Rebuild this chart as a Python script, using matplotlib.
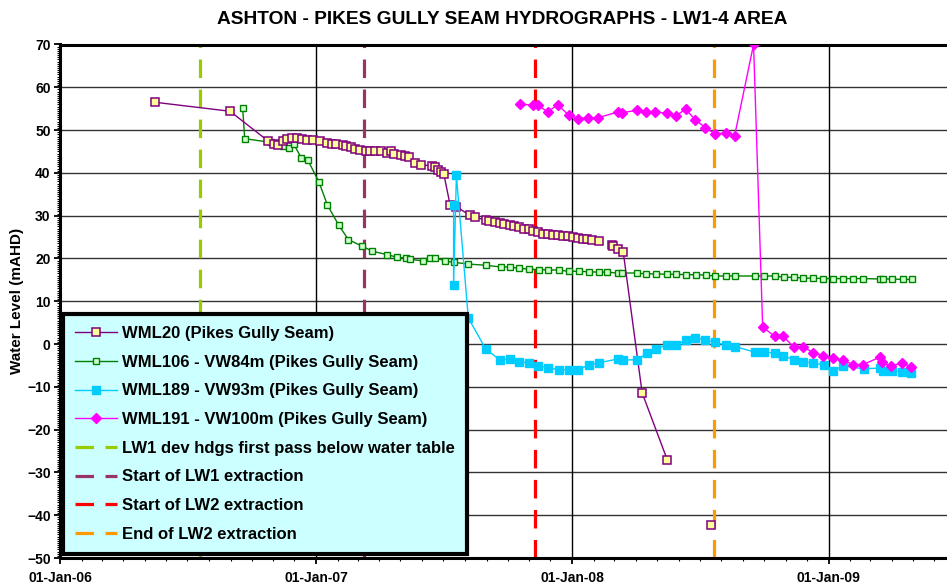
#!/usr/bin/env python3

import matplotlib
matplotlib.use('Agg')
import matplotlib.pyplot as plt
import matplotlib.dates as mdates
from matplotlib.ticker import MultipleLocator
import numpy as np
import pandas as pd

nan = np.nan
START = pd.Timestamp('2006-01-01')

# days since 01-Jan-06 and water levels (mAHD)
wml20_days = [135, 242, 296, 305, 311, 317, 324, 331, 338, 345,
              352, 361, 370, 380, 387, 393, 403, 408, 414, 421,
              428, 436, 442, 449, 458, 466, 471, 476, 486, 492,
              498, 506, 515, 530, 535, 539, 543, 547, 556, 565,
              584, 592, 607, 612, 620, 627, 633, 641, 647, 655,
              661, 668, 675, 681, 688, 695, 703, 710, 717, 724,
              731, 739, 745, 752, 758, 768, 778, 787, 789, 796,
              803, 830, 866, 900, 928]
wml20_level = [56.5, 54.4, 47.5, 46.7, 46.4, 47.5, 48.0, 48.2, 48.2, 47.9,
               47.7, 47.7, 47.5, 47.0, 46.8, 46.8, 46.5, 46.2, 46.0, 45.6,
               45.4, 45.1, 45.1, 45.1, 45.0, 44.7, 45.1, 44.4, 44.2, 44.0,
               43.7, 42.4, 41.9, 41.6, 41.3, 40.7, 40.3, 39.8, 32.5, 32.1,
               30.1, 29.6, 29.0, 28.7, 28.6, 28.4, 28.1, 27.9, 27.5, 27.3,
               27.0, 26.8, 26.5, 26.2, 25.8, 25.8, 25.4, 25.4, 25.3, 25.3,
               25.1, 24.8, 24.5, 24.5, 24.2, 24.0, nan, 23.2, 23.0, 22.3,
               21.6, -11.4, -27.1, nan, -42.4]

wml106_days = [260, 263, 301, 310, 318, 326, 333, 344, 353, 369,
               381, 397, 411, 430, 445, 466, 480, 493, 499, 518,
               528, 535, 549, 561, 582, 607, 629, 641, 655, 668,
               683, 695, 711, 725, 740, 754, 768, 780, 795, 802,
               822, 835, 850, 865, 879, 893, 907, 921, 934, 949,
               962, 991, 1004, 1019, 1033, 1046, 1060, 1074, 1088, 1102,
               1117, 1131, 1145, 1169, 1173, 1186, 1202, 1215]
wml106_level = [55.2, 48.0, 47.1, 46.7, 46.2, 45.7, 46.7, 43.4, 43.0, 37.8,
                32.5, 27.8, 24.4, 22.9, 21.7, 20.9, 20.3, 20.1, 19.8, 19.4,
                20.1, 20.2, 19.4, 19.1, 18.7, 18.4, 18.0, 18.0, 17.7, 17.5,
                17.4, 17.3, 17.3, 17.0, 17.0, 16.9, 16.8, 16.8, 16.6, 16.6,
                16.6, 16.4, 16.4, 16.3, 16.3, 16.2, 16.2, 16.1, 15.9, 15.9,
                15.9, 15.9, 15.9, 15.9, 15.6, 15.6, 15.4, 15.4, 15.3, 15.3,
                15.3, 15.3, 15.3, 15.2, 15.2, 15.2, 15.1, 15.1]

wml189_days = [561, 561, 565, 582, 607, 627, 641, 655, 668, 682,
               695, 711, 725, 739, 754, 768, 795, 803, 823, 837,
               850, 866, 879, 893, 906, 920, 934, 949, 963, 991,
               1004, 1019, 1031, 1047, 1060, 1074, 1089, 1103, 1117, 1146,
               1170, 1173, 1186, 1201, 1214]
wml189_level = [32.5, 13.7, 39.4, 6.1, -1.2, -3.7, -3.5, -4.1, -4.4, -5.1,
                -5.5, -6.0, -6.0, -6.0, -4.9, -4.4, -3.5, -3.7, -3.7, -2.1,
                -1.1, -0.2, -0.2, 1.0, 1.4, 1.0, 0.4, -0.2, -0.6, -1.9,
                -1.9, -2.1, -2.7, -3.7, -4.2, -4.4, -4.9, -6.2, -5.1, -5.8,
                -5.6, -6.2, -6.2, -6.5, -6.8]

wml191_days = [656, 674, 681, 695, 710, 725, 739, 753, 767, 795,
               802, 822, 835, 849, 865, 878, 892, 906, 920, 934,
               949, 962, 989, 1002, 1019, 1031, 1046, 1059, 1074, 1088,
               1102, 1117, 1131, 1145, 1169, 1172, 1185, 1201, 1214]
wml191_level = [56.1, 55.8, 55.8, 54.3, 55.9, 53.5, 52.7, 52.9, 52.9, 54.2,
                54.1, 54.6, 54.3, 54.3, 53.9, 53.3, 54.9, 52.4, 50.6, 49.1,
                49.3, 48.7, 70.0, 4.0, 1.8, 1.8, -0.6, -0.6, -2.0, -2.7,
                -3.3, -3.8, -4.8, -4.8, -3.1, -4.3, -5.1, -4.4, -5.4]

event_dates = ['2006-07-19', '2007-03-10', '2007-11-09', '2008-07-22']
event_labels = ['LW1 dev hdgs first pass below water table',
                'Start of LW1 extraction',
                'Start of LW2 extraction',
                'End of LW2 extraction']
event_colors = ['#99CC00', '#993366', '#FF0000', '#FF9900']


def to_dates(days):
    return START + pd.to_timedelta(days, unit='D')


plt.rcParams['font.family'] = ['Liberation Sans', 'DejaVu Sans']
plt.rcParams['font.weight'] = 'bold'

fig = plt.figure(figsize=(9.47, 5.86), dpi=100)
W, H = 947.0, 586.0
ax = fig.add_axes([60.4 / W, 1 - 558 / H, (W - 60.4) / W, (558 - 44.5) / H])

for y in range(-40, 70, 10):
    ax.axhline(y, color='#333333', lw=1, zorder=1)
for yr in [2007, 2008, 2009]:
    ax.axvline(pd.Timestamp(f'{yr}-01-01'), color='black', lw=1, zorder=1)

event_handles = []
for d, lab, c in zip(event_dates, event_labels, event_colors):
    h = ax.axvline(pd.Timestamp(d), color=c, lw=2.3, dashes=(5.8, 3.6),
                   label=lab, zorder=2)
    event_handles.append(h)

l20, = ax.plot(to_dates(wml20_days), wml20_level, color='#800080', lw=1,
               marker='s', ms=5.3, mfc='#FFFF99', mec='#800080', mew=1.1,
               label='WML20 (Pikes Gully Seam)', zorder=4)
l106, = ax.plot(to_dates(wml106_days), wml106_level, color='#008000', lw=1,
                marker='s', ms=4.2, mfc='#CCFFCC', mec='#008000', mew=1.0,
                label='WML106 - VW84m (Pikes Gully Seam)', zorder=3)
l189, = ax.plot(to_dates(wml189_days), wml189_level, color='#00CCFF', lw=1,
                marker='s', ms=5.3, mfc='#00CCFF', mec='#00CCFF',
                label='WML189 - VW93m (Pikes Gully Seam)', zorder=5)
l191, = ax.plot(to_dates(wml191_days), wml191_level, color='#FF00FF', lw=1,
                marker='D', ms=4.6, mfc='#FF00FF', mec='#FF00FF',
                label='WML191 - VW100m (Pikes Gully Seam)', zorder=6)

ax.set_ylim(-50, 70)
ax.set_xlim(START, START + pd.Timedelta(days=1265))
ax.yaxis.set_major_locator(MultipleLocator(10))
ax.yaxis.set_minor_locator(MultipleLocator(0.5))
ax.xaxis.set_major_locator(mdates.YearLocator())
ax.xaxis.set_minor_locator(mdates.MonthLocator())
ax.xaxis.set_major_formatter(mdates.DateFormatter('%d-%b-%y'))
ax.tick_params(which='major', direction='out', length=4, width=1.3,
               labelsize=10, pad=3)
ax.tick_params(which='minor', direction='out', length=2.5, width=0.8)
ax.tick_params(axis='x', which='major', pad=5)
for lab in ax.get_xticklabels() + ax.get_yticklabels():
    lab.set_fontweight('bold')

for s in ['left', 'bottom', 'top']:
    ax.spines[s].set_linewidth(2.2)
ax.spines['right'].set_visible(False)

ax.set_ylabel('Water Level (mAHD)', fontsize=11, fontweight='bold', labelpad=2)
fig.text(502 / W, 1 - 20 / H, 'ASHTON - PIKES GULLY SEAM HYDROGRAPHS - LW1-4 AREA',
         ha='center', va='center', fontsize=13.8, fontweight='bold')

leg = ax.legend(handles=[l20, l106, l189, l191] + event_handles,
                loc='upper left', bbox_to_anchor=(63 / W, 1 - 314 / H),
                bbox_transform=fig.transFigure, borderaxespad=0,
                prop={'weight': 'bold', 'size': 12}, handlelength=2.5,
                handletextpad=0.3, labelspacing=0.82, borderpad=0.72,
                fancybox=False, framealpha=1, facecolor='#CCFFFF',
                edgecolor='black')
leg.get_frame().set_linewidth(3)
leg.set_zorder(10)

fig.savefig('out.png', dpi=100)
